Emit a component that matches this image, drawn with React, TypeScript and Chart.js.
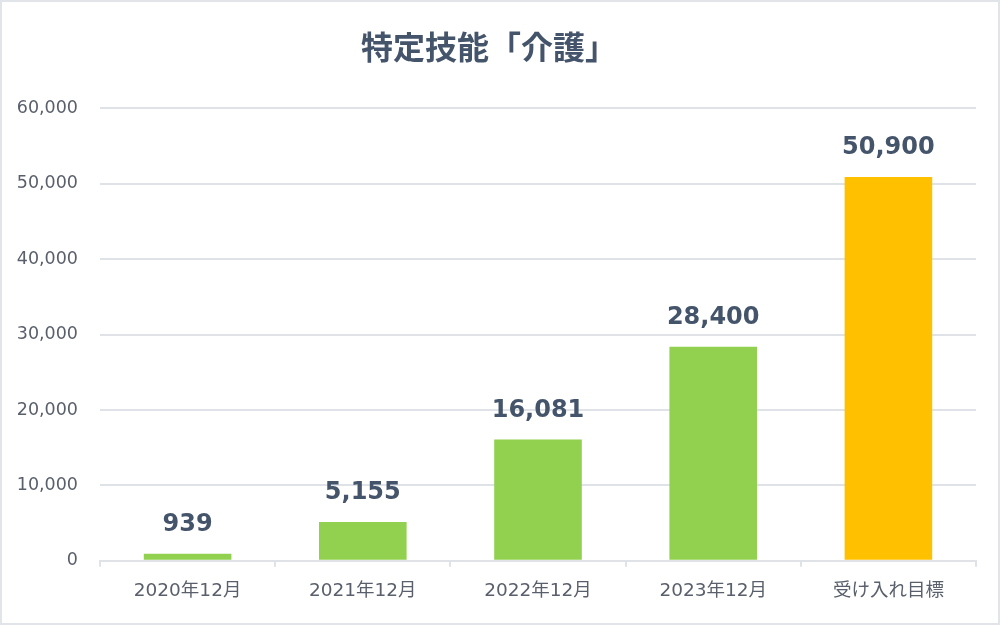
import { useEffect, useRef } from 'react'
import { Chart, registerables, type Plugin } from 'chart.js'

Chart.register(...registerables)

const TITLE = '特定技能「介護」'
const categories = ['2020年12月', '2021年12月', '2022年12月', '2023年12月', '受け入れ目標']
const counts = [939, 5155, 16081, 28400, 50900]
const barColors = ['#92D050', '#92D050', '#92D050', '#92D050', '#FFC000']
const yTicks = [0, 10000, 20000, 30000, 40000, 50000, 60000]

const TEXT_DARK = '#44546A'
const TEXT_TICK = '#595f6b'
const GRID = '#dfe3e8'
const FONT = "'DejaVu Sans', 'Noto Sans CJK JP', sans-serif"

// values drawn above each bar
const barLabels: Plugin<'bar'> = {
  id: 'barLabels',
  afterDatasetsDraw(chart) {
    const { ctx } = chart
    const meta = chart.getDatasetMeta(0)
    ctx.save()
    ctx.font = `bold 24px ${FONT}`
    ctx.fillStyle = TEXT_DARK
    ctx.textAlign = 'center'
    ctx.textBaseline = 'alphabetic'
    meta.data.forEach((bar, i) => {
      ctx.fillText(counts[i].toLocaleString('en-US'), bar.x, bar.y - 23)
    })
    ctx.restore()
  },
}

export default function App() {
  const canvasRef = useRef<HTMLCanvasElement>(null)

  useEffect(() => {
    const canvas = canvasRef.current
    if (!canvas) return
    const chart = new Chart(canvas, {
      type: 'bar',
      data: {
        labels: categories,
        datasets: [{
          data: counts,
          backgroundColor: barColors,
          barPercentage: 0.5,
          categoryPercentage: 1,
        }],
      },
      options: {
        responsive: true,
        maintainAspectRatio: false,
        animation: false,
        layout: { padding: { left: 0, right: 22, bottom: 8 } },
        plugins: {
          legend: { display: false },
          tooltip: { enabled: false },
          title: {
            display: true,
            text: TITLE,
            color: TEXT_DARK,
            font: { family: "'Noto Sans CJK JP', sans-serif", size: 32, weight: 'bold', lineHeight: 1.2 },
            padding: { top: 26, bottom: 42 },
          },
        },
        scales: {
          x: {
            offset: true,
            grid: { offset: true, drawOnChartArea: false, drawTicks: true, tickLength: 6, color: GRID, lineWidth: 2 },
            border: { display: true, color: GRID, width: 2 },
            ticks: { color: TEXT_TICK, padding: 13, font: { family: FONT, size: 18.5 } },
          },
          y: {
            min: 0,
            max: 60000,
            afterBuildTicks: (scale) => { scale.ticks = yTicks.map((v) => ({ value: v })) },
            afterFit: (scale) => { scale.width = 98 },
            grid: { drawTicks: false, color: GRID, lineWidth: 2 },
            border: { display: false },
            ticks: {
              color: TEXT_TICK,
              padding: 22,
              font: { family: FONT, size: 17.5 },
              callback: (v) => Number(v).toLocaleString('en-US'),
            },
          },
        },
      },
      plugins: [barLabels],
    })
    return () => chart.destroy()
  }, [])

  return (
    <div style={{
      position: 'absolute', left: 0, top: 0, width: 1000, height: 625,
      boxSizing: 'border-box', border: '2px solid #e1e5ea', background: '#fff',
    }}>
      <canvas ref={canvasRef} />
    </div>
  )
}
